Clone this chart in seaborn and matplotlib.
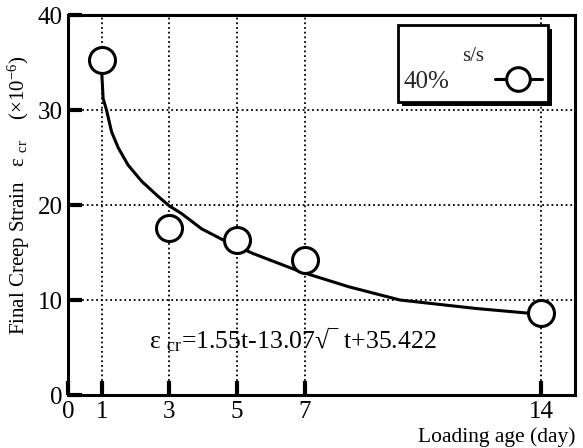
import matplotlib
matplotlib.use("Agg")
import matplotlib.pyplot as plt
import seaborn as sns
import pandas as pd
from matplotlib.lines import Line2D
from matplotlib.patches import Rectangle
from matplotlib.transforms import offset_copy

# data
loading_age = [1, 3, 5, 7, 14]
creep_strain = [35.3, 17.6, 16.3, 14.2, 8.6]

fit_age = [1.0, 1.04, 1.14, 1.29, 1.49, 1.78, 2.18, 2.67, 3.0, 3.36, 3.95,
           4.6, 5.47, 6.86, 8.3, 9.82, 12.09, 13.67]
fit_strain = [33.9, 31.2, 30.0, 27.7, 26.0, 24.2, 22.5, 20.9, 19.9, 19.1, 17.5,
              16.3, 14.9, 13.0, 11.4, 10.0, 9.1, 8.6]

x_ticks = [0, 1, 3, 5, 7, 14]
y_ticks = [0, 10, 20, 30, 40]
legend_title = "s/s"
legend_label = "40%"
equation = "ε $_{\\rm cr}$=1.55t-13.07√‾ t+35.422"
y_label = "Final Creep Strain   ε $_{\\rm cr}$    (×10$^{-6}$)"

sns.set_theme(style="white")
plt.rcParams["font.family"] = ["Liberation Serif", "DejaVu Serif"]
plt.rcParams["mathtext.fontset"] = "custom"
plt.rcParams["mathtext.rm"] = "Liberation Serif"
plt.rcParams["mathtext.it"] = "Liberation Serif:italic"

fig = plt.figure(figsize=(5.83, 4.48), dpi=100)
ax = fig.add_axes([0.1166, 0.1183, 0.8697, 0.8482])

pts = pd.DataFrame({"age": loading_age, "strain": creep_strain})
fit = pd.DataFrame({"age": fit_age, "strain": fit_strain})

sns.lineplot(data=fit, x="age", y="strain", ax=ax, color="black", lw=2.2,
             sort=False, zorder=3)
sns.scatterplot(data=pts, x="age", y="strain", ax=ax, marker="o", s=350,
                facecolor="white", edgecolor="black", linewidth=2.2, zorder=4)

ax.set_xlim(0, 15)
ax.set_ylim(0, 40)
ax.set_xticks(x_ticks)
ax.set_yticks(y_ticks)
ax.set_xticklabels([str(v) for v in x_ticks], fontsize=18)
ax.set_yticklabels([str(v) for v in y_ticks], fontsize=18)
ax.tick_params(axis="both", which="major", direction="in", length=10, width=3,
               color="black", labelcolor="black", bottom=True, left=True,
               top=False, right=False)
ax.tick_params(axis="x", pad=4)
ax.tick_params(axis="y", pad=4)

for v in [1, 3, 5, 7, 14]:
    ax.axvline(v, color="black", ls=(0, (1, 1.6)), lw=1.3, zorder=1)
for v in [10, 20, 30]:
    ax.axhline(v, color="black", ls=(0, (1, 1.6)), lw=1.3, zorder=1)

for s in ax.spines.values():
    s.set_visible(True)
    s.set_color("black")
    s.set_linewidth(2.2)

ax.set_xlabel("")
ax.set_ylabel(y_label, fontsize=15, color="black")
ax.yaxis.set_label_coords(-0.071, 0.526)

ax.text(1.0, -0.112, "Loading age (day)", transform=ax.transAxes, ha="right",
        va="center", fontsize=15.5, color="black")

ax.text(2.4, 5.8, equation, fontsize=18.5, color="black", va="center", ha="left")

# legend frame with solid shadow
bx0, by0, bw, bh = 0.651, 0.771, 0.296, 0.203
shadow_tr = offset_copy(ax.transAxes, fig=fig, x=4, y=-4, units="dots")
ax.add_patch(Rectangle((bx0, by0), bw, bh, transform=shadow_tr,
                       facecolor="black", edgecolor="black", lw=0,
                       clip_on=False, zorder=5))
ax.add_patch(Rectangle((bx0, by0), bw, bh, transform=ax.transAxes,
                       facecolor="white", edgecolor="black", lw=2.0,
                       clip_on=False, zorder=5.1))

handle = Line2D([], [], color="black", lw=2.2, marker="o", markersize=17,
                markerfacecolor="white", markeredgecolor="black",
                markeredgewidth=2.2)
leg = ax.legend([handle], [legend_label], title=legend_title, loc="upper right",
                bbox_to_anchor=(0.935, 0.917), frameon=False,
                markerfirst=False, fontsize=18, title_fontsize=15,
                handlelength=1.9, handletextpad=1.8, borderpad=0,
                borderaxespad=0, labelspacing=0.2)
leg.set_zorder(6)
leg._legend_box.sep = 3.5

fig.savefig("out.png", dpi=100)
